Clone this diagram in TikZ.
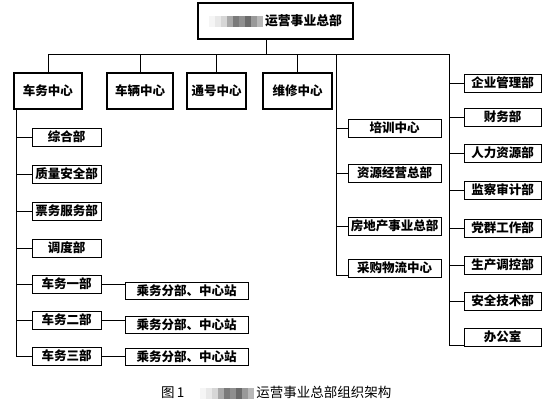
\documentclass[tikz,border=0pt]{standalone}
\usepackage{fontspec}
\setmainfont{Noto Sans CJK SC}
\usepackage{xcolor}

% blurred part of the name
\newcommand{\blotch}[1]{{\color{black!#1}\rule[-1.5pt]{6pt}{11pt}}}
\newcommand{\blurname}{\blotch{4}\blotch{9}\blotch{16}\blotch{34}\blotch{52}\blotch{44}\blotch{58}\blotch{40}\blotch{28}}

\begin{document}
\begin{tikzpicture}[x=1pt,y=-1pt,
		box/.style={draw,line width=0.8pt,inner sep=0pt,minimum height=18pt,font=\fontsize{12.5}{14}\selectfont\bfseries},
		centrebox/.style={box,line width=1.6pt,minimum height=36pt},
		link/.style={line width=0.7pt}]
				\useasboundingbox (0,0) rectangle (554,408);
				
				% head office
				\node[centrebox,line width=2pt,minimum width=155pt,font=\fontsize{12.8}{14}\selectfont\bfseries] (top) at (275.5,21) {\blurname\hspace{2pt}运营事业总部};
				
				% centres
				\node[centrebox,minimum width=68pt] (cwzx) at (48,91) {车务中心};
				\node[centrebox,minimum width=66pt] (clzx) at (140,91) {车辆中心};
				\node[centrebox,minimum width=59pt] (thzx) at (216.5,91) {通号中心};
				\node[centrebox,minimum width=69pt] (wxzx) at (297.5,91) {维修中心};
				
				% departments of the first centre
				\node[box,minimum width=69pt] (zhb) at (66.5,137) {综合部};
				\node[box,minimum width=69pt] (zlaq) at (66.5,174) {质量安全部};
				\node[box,minimum width=69pt] (pwfw) at (66.5,211) {票务服务部};
				\node[box,minimum width=69pt] (ddb) at (66.5,248) {调度部};
				\node[box,minimum width=69pt] (cw1) at (66.5,284) {车务一部};
				\node[box,minimum width=69pt] (cw2) at (66.5,320) {车务二部};
				\node[box,minimum width=69pt] (cw3) at (66.5,356) {车务三部};
				\node[box,minimum width=123pt,minimum height=17pt] (cz1) at (186.5,291) {乘务分部、中心站};
				\node[box,minimum width=123pt,minimum height=17pt] (cz2) at (186.5,325) {乘务分部、中心站};
				\node[box,minimum width=123pt,minimum height=17pt] (cz3) at (186.5,357) {乘务分部、中心站};
				
				% middle column
				\node[box,minimum width=93pt] (pxzx) at (394.5,128) {培训中心};
				\node[box,minimum width=93pt] (zyjy) at (394.5,173) {资源经营总部};
				\node[box,minimum width=93pt] (fdc) at (394.5,226) {房地产事业总部};
				\node[box,minimum width=93pt] (cgwl) at (394.5,268) {采购物流中心};
				
				% right column
				\node[box,minimum width=77pt] (qygl) at (502.5,83) {企业管理部};
				\node[box,minimum width=77pt] (cwb) at (502.5,117) {财务部};
				\node[box,minimum width=77pt] (rlzy) at (502.5,153) {人力资源部};
				\node[box,minimum width=77pt] (jcsj) at (502.5,190) {监察审计部};
				\node[box,minimum width=77pt] (dqgz) at (502.5,228) {党群工作部};
				\node[box,minimum width=77pt] (sctk) at (502.5,265) {生产调控部};
				\node[box,minimum width=77pt] (aqjs) at (502.5,301) {安全技术部};
				\node[box,minimum width=77pt] (bgs) at (502.5,337) {办公室};
				
				% bus
				\coordinate (drop) at (266,54);
				\coordinate (busL) at (48,54);
				\coordinate (midrail) at (336,54);
				\coordinate (busR) at (449,54);
				\draw[link] (drop |- top.south) -- (drop);
				\draw[link] (busL) -- (busR);
				\draw[link] (cwzx.north) -- (cwzx.north |- busL);
				\draw[link] (clzx.north) -- (clzx.north |- busL);
				\draw[link] (thzx.north) -- (thzx.north |- busL);
				\draw[link] (wxzx.north) -- (wxzx.north |- busL);
				
				% left rail
				\coordinate (leftrail) at ([xshift=3pt]cwzx.south west);
				\draw[link] (leftrail) |- (zhb.west);
				\draw[link] (leftrail) |- (zlaq.west);
				\draw[link] (leftrail) |- (pwfw.west);
				\draw[link] (leftrail) |- (ddb.west);
				\draw[link] (leftrail) |- (cw1.west);
				\draw[link] (leftrail) |- (cw2.west);
				\draw[link] (leftrail) |- (cw3.west);
				\draw[link] (cw1.east) -- (cw1.east -| cz1.west);
				\draw[link] (cw2.east) -- (cw2.east -| cz2.west);
				\draw[link] (cw3.east) -- (cw3.east -| cz3.west);
				
				% middle rail, last one runs in low
				\draw[link] (midrail) |- (pxzx.west);
				\draw[link] (midrail) |- (zyjy.west);
				\draw[link] (midrail) |- (fdc.west);
				\draw[link] (midrail) |- ([yshift=-7pt]cgwl.west);
				
				% right rail
				\draw[link] (busR) |- (qygl.west);
				\draw[link] (busR) |- (cwb.west);
				\draw[link] (busR) |- (rlzy.west);
				\draw[link] (busR) |- (jcsj.west);
				\draw[link] (busR) |- (dqgz.west);
				\draw[link] (busR) |- (sctk.west);
				\draw[link] (busR) |- (aqjs.west);
				\draw[link] (busR) |- ([yshift=-8pt]bgs.west);
				
				% caption
				\node[anchor=west,inner sep=0pt,font=\fontsize{13.5}{15}\selectfont] (caption) at (161,393) {图\,1\hspace{16pt}\blurname\hspace{2pt}运营事业总部组织架构};
			\end{tikzpicture}
\end{document}
